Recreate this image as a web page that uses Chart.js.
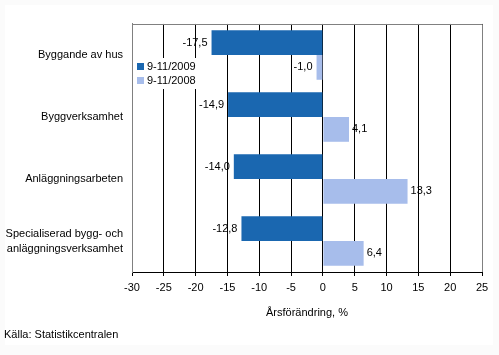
<!DOCTYPE html>
<html>
<head>
<meta charset="utf-8">
<script src="https://cdn.jsdelivr.net/npm/chart.js@4/dist/chart.umd.min.js"></script>
<style>
html,body{margin:0;padding:0;background:#fbfbfb;}
#wrap{width:499px;height:355px;position:relative;}
</style>
</head>
<body>
<div id="wrap"><canvas id="c" width="499" height="355"></canvas></div>
<script>
const categories = ["Byggande av hus", "Byggverksamhet", "Anläggningsarbeten", ["Specialiserad bygg- och", "anläggningsverksamhet"]];
const series2009 = [-17.5, -14.9, -14.0, -12.8];
const series2008 = [-1.0, 4.1, 13.3, 6.4];
const seriesNames = ["9-11/2009", "9-11/2008"];
const xTicks = [-30, -25, -20, -15, -10, -5, 0, 5, 10, 15, 20, 25];
const axisTitle = "Årsförändring, %";
const sourceText = "Källa: Statistikcentralen";

const DARK = "#1A67B0";
const LIGHT = "#A7BDEB";
const FONT = "11px 'Liberation Sans', Arial, sans-serif";

const fmt = v => v.toFixed(1).replace('.', ',');

const bgPlugin = {
  id: 'bg',
  beforeDraw(chart) {
    const ctx = chart.ctx;
    ctx.save();
    ctx.fillStyle = '#fbfbfb';
    ctx.fillRect(0, 0, chart.width, chart.height);
    ctx.fillStyle = '#ffffff';
    ctx.fillRect(5, 5, 488, 340);
    ctx.restore();
  }
};

const overlayPlugin = {
  id: 'overlay',
  afterDatasetsDraw(chart) {
    const ctx = chart.ctx;
    const ca = chart.chartArea;
    ctx.save();
    // border
    ctx.strokeStyle = '#808080';
    ctx.lineWidth = 1;
    ctx.beginPath();
    ctx.moveTo(Math.round(ca.left) + 0.5, Math.round(ca.bottom));
    ctx.lineTo(Math.round(ca.left) + 0.5, Math.round(ca.top) + 0.5);
    ctx.lineTo(Math.round(ca.right) + 0.5, Math.round(ca.top) + 0.5);
    ctx.lineTo(Math.round(ca.right) + 0.5, Math.round(ca.bottom));
    ctx.stroke();
    // value labels
    ctx.font = FONT;
    ctx.fillStyle = '#000';
    ctx.textBaseline = 'middle';
    chart.data.datasets.forEach((ds, di) => {
      const meta = chart.getDatasetMeta(di);
      meta.data.forEach((bar, i) => {
        const v = ds.data[i];
        const t = fmt(v);
        if (v < 0) {
          ctx.textAlign = 'right';
          ctx.fillText(t, bar.x - 4, bar.y);
        } else {
          ctx.textAlign = 'left';
          ctx.fillText(t, bar.x + 3, bar.y);
        }
      });
    });
    // legend
    ctx.fillStyle = '#fff';
    ctx.fillRect(135, 58, 64, 31);
    const lx = 137, ly = [66, 80];
    [DARK, LIGHT].forEach((c, i) => {
      ctx.fillStyle = c;
      ctx.fillRect(lx, ly[i] - 3, 7, 7);
      ctx.fillStyle = '#000';
      ctx.textAlign = 'left';
      ctx.fillText(seriesNames[i], lx + 10, ly[i] + 1);
    });
    // axis title
    ctx.textAlign = 'center';
    ctx.fillText(axisTitle, (ca.left + ca.right) / 2, 313);
    // source
    ctx.textAlign = 'left';
    ctx.fillText(sourceText, 4, 335);
    ctx.restore();
  }
};

new Chart(document.getElementById('c'), {
  type: 'bar',
  data: {
    labels: categories,
    datasets: [
      { label: seriesNames[0], data: series2009, backgroundColor: DARK, borderWidth: 0 },
      { label: seriesNames[1], data: series2008, backgroundColor: LIGHT, borderWidth: 0 }
    ]
  },
  options: {
    indexAxis: 'y',
    responsive: false,
    animation: false,
    devicePixelRatio: 1,
    layout: { padding: { left: 0, right: 17, top: 22, bottom: 0 } },
    plugins: { legend: { display: false }, tooltip: { enabled: false } },
    datasets: { bar: { categoryPercentage: 0.8, barPercentage: 1.0 } },
    scales: {
      x: {
        min: -30, max: 25,
        afterBuildTicks(scale) { scale.ticks = xTicks.map(v => ({ value: v })); },
        afterFit(scale) { scale.height = 83; },
        grid: { color: '#000', lineWidth: 1, drawTicks: true, tickLength: 4, tickColor: '#000' },
        border: { display: true, color: '#000' },
        ticks: { color: '#000', font: { family: "'Liberation Sans', Arial, sans-serif", size: 11 }, padding: 5, maxRotation: 0,
                 callback: v => String(v) }
      },
      y: {
        afterFit(scale) { scale.width = 132; },
        grid: { display: false, drawTicks: false, tickLength: 0 },
        border: { display: true, color: '#808080' },
        ticks: { color: '#000', font: { family: "'Liberation Sans', Arial, sans-serif", size: 11, lineHeight: 1.36 }, padding: 9 }
      }
    }
  },
  plugins: [bgPlugin, overlayPlugin]
});
</script>
</body>
</html>
